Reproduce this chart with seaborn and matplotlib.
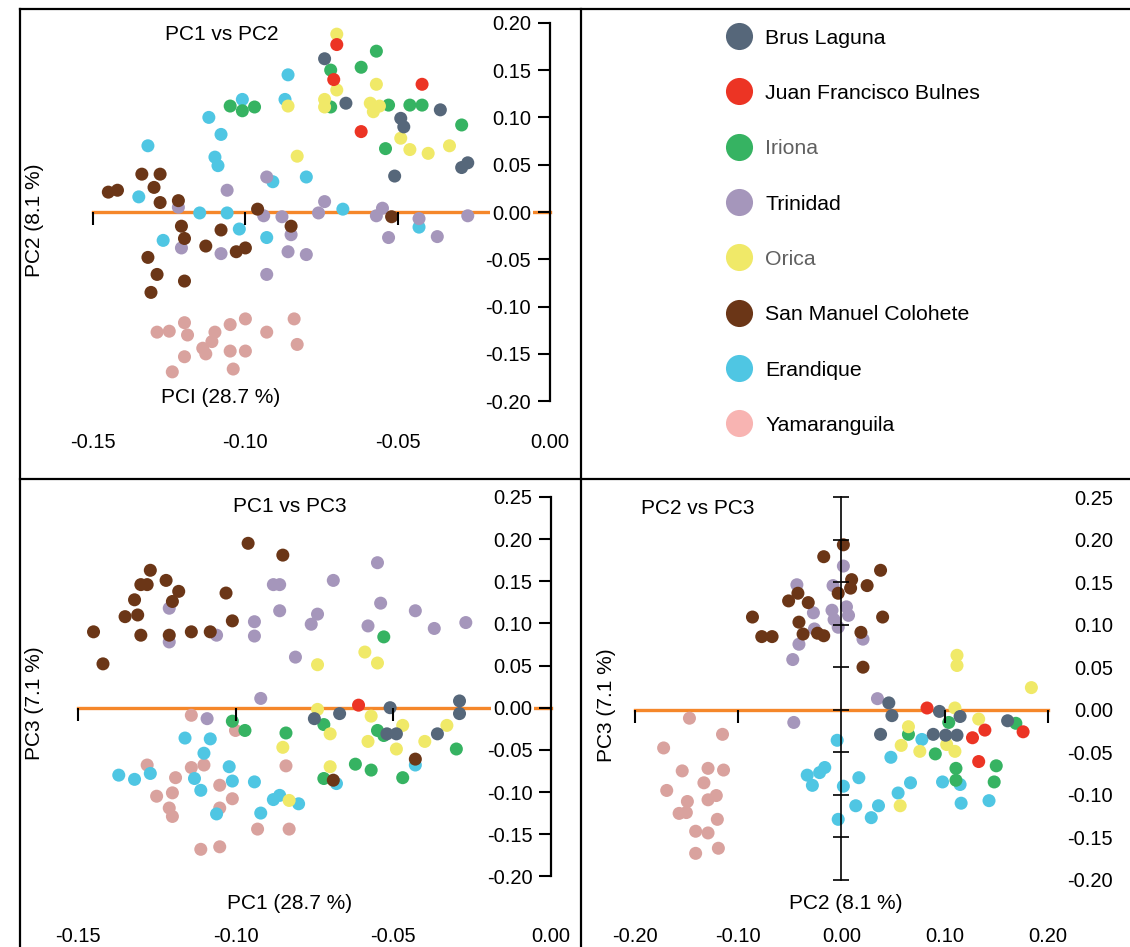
import numpy as np
import pandas as pd
import matplotlib
matplotlib.use("Agg")
import matplotlib.pyplot as plt
from matplotlib.lines import Line2D
import seaborn as sns

plt.rcParams['font.family'] = ['Liberation Sans', 'DejaVu Sans']
plt.rcParams['axes.unicode_minus'] = False

# ---- groups and colours ----
sites = ["Brus Laguna", "Juan Francisco Bulnes", "Iriona", "Trinidad", "Orica",
         "San Manuel Colohete", "Erandique", "Yamaranguila"]
point_colors = ["#56677a", "#ec3424", "#36b362", "#a596bb", "#f0e968",
                "#6b3617", "#4fc6e3", "#d9a29e"]
legend_colors = ["#56677a", "#ec3424", "#36b362", "#a596bb", "#f0e968",
                 "#6b3617", "#4fc6e3", "#f8b4b2"]
legend_text_colors = ["black", "black", "#606060", "black", "#606060",
                      "black", "black", "black"]
draw_order = ["Yamaranguila", "Erandique", "Trinidad", "Iriona", "Orica",
              "Brus Laguna", "Juan Francisco Bulnes", "San Manuel Colohete"]

# ---- ticks ----
pc1_ticks = [-0.15, -0.10, -0.05, 0.00]
pc2_ticks_v = [0.20, 0.15, 0.10, 0.05, 0.00, -0.05, -0.10, -0.15, -0.20]
pc3_ticks_v = [0.25, 0.20, 0.15, 0.10, 0.05, 0.00, -0.05, -0.10, -0.15, -0.20]
pc2_ticks_h = [-0.20, -0.10, 0.00, 0.10, 0.20]

# ---- PC1 vs PC2 ----
p12_x = {
    "Brus Laguna": [-0.074, -0.067, -0.036, -0.049, -0.048, -0.029, -0.027, -0.051],
    "Juan Francisco Bulnes": [-0.070, -0.071, -0.062, -0.042],
    "Iriona": [-0.057, -0.062, -0.072, -0.072, -0.105, -0.101, -0.097, -0.053, -0.046, -0.042, -0.029, -0.054],
    "Trinidad": [-0.093, -0.106, -0.122, -0.094, -0.088, -0.076, -0.074, -0.057, -0.055, -0.043,
                 -0.053, -0.037, -0.027, -0.121, -0.108, -0.085, -0.086, -0.080, -0.093],
    "Orica": [-0.070, -0.070, -0.074, -0.074, -0.086, -0.057, -0.059, -0.058, -0.056, -0.049,
              -0.046, -0.040, -0.033, -0.083],
    "San Manuel Colohete": [-0.145, -0.142, -0.134, -0.128, -0.130, -0.128, -0.122, -0.096, -0.121, -0.120,
                            -0.113, -0.108, -0.103, -0.100, -0.085, -0.132, -0.129, -0.131, -0.120, -0.052],
    "Erandique": [-0.086, -0.087, -0.101, -0.112, -0.108, -0.110, -0.109, -0.132, -0.135, -0.091,
                  -0.080, -0.115, -0.106, -0.102, -0.093, -0.127, -0.068, -0.043],
    "Yamaranguila": [-0.129, -0.125, -0.120, -0.119, -0.110, -0.105, -0.100, -0.084, -0.093, -0.111,
                     -0.114, -0.113, -0.105, -0.100, -0.083, -0.120, -0.124, -0.104],
}
p12_y = {
    "Brus Laguna": [0.162, 0.115, 0.108, 0.099, 0.090, 0.047, 0.052, 0.038],
    "Juan Francisco Bulnes": [0.177, 0.140, 0.085, 0.135],
    "Iriona": [0.170, 0.153, 0.150, 0.111, 0.112, 0.107, 0.111, 0.113, 0.113, 0.113, 0.092, 0.067],
    "Trinidad": [0.037, 0.023, 0.005, -0.004, -0.005, -0.001, 0.011, -0.004, 0.004, -0.007,
                 -0.027, -0.026, -0.004, -0.038, -0.044, -0.024, -0.042, -0.045, -0.066],
    "Orica": [0.188, 0.129, 0.119, 0.111, 0.112, 0.135, 0.115, 0.106, 0.112, 0.078,
              0.066, 0.062, 0.070, 0.059],
    "San Manuel Colohete": [0.021, 0.023, 0.040, 0.040, 0.026, 0.010, 0.012, 0.003, -0.015, -0.028,
                            -0.036, -0.019, -0.042, -0.038, -0.015, -0.048, -0.066, -0.085, -0.073, -0.005],
    "Erandique": [0.145, 0.119, 0.119, 0.100, 0.082, 0.058, 0.049, 0.070, 0.016, 0.032,
                  0.037, -0.001, -0.001, -0.018, -0.027, -0.030, 0.003, -0.016],
    "Yamaranguila": [-0.127, -0.126, -0.117, -0.130, -0.127, -0.119, -0.113, -0.113, -0.127, -0.137,
                     -0.144, -0.150, -0.147, -0.147, -0.140, -0.153, -0.169, -0.166],
}

# ---- PC1 vs PC3 ----
p13_x = {
    "Brus Laguna": [-0.051, -0.075, -0.067, -0.029, -0.029, -0.036, -0.049, -0.052],
    "Juan Francisco Bulnes": [-0.061],
    "Iriona": [-0.053, -0.101, -0.097, -0.084, -0.072, -0.055, -0.053, -0.062, -0.057, -0.072, -0.047, -0.030],
    "Trinidad": [-0.121, -0.121, -0.106, -0.109, -0.094, -0.094, -0.088, -0.086, -0.086, -0.076,
                 -0.074, -0.069, -0.058, -0.055, -0.054, -0.043, -0.037, -0.027, -0.081, -0.092],
    "Orica": [-0.074, -0.059, -0.055, -0.074, -0.057, -0.070, -0.047, -0.085, -0.058, -0.049,
              -0.040, -0.033, -0.070, -0.083],
    "San Manuel Colohete": [-0.145, -0.142, -0.135, -0.131, -0.132, -0.130, -0.130, -0.128, -0.127, -0.122,
                            -0.118, -0.120, -0.121, -0.114, -0.108, -0.103, -0.101, -0.096, -0.085, -0.043, -0.069],
    "Erandique": [-0.137, -0.132, -0.127, -0.116, -0.108, -0.110, -0.102, -0.113, -0.101, -0.111,
                  -0.094, -0.106, -0.092, -0.088, -0.086, -0.080, -0.068, -0.043],
    "Yamaranguila": [-0.114, -0.100, -0.128, -0.114, -0.110, -0.119, -0.084, -0.125, -0.120, -0.105,
                     -0.101, -0.121, -0.120, -0.105, -0.093, -0.083, -0.111, -0.105],
}
p13_y = {
    "Brus Laguna": [0.000, -0.013, -0.007, 0.008, -0.007, -0.031, -0.031, -0.031],
    "Juan Francisco Bulnes": [0.003],
    "Iriona": [0.084, -0.016, -0.027, -0.030, -0.020, -0.027, -0.033, -0.067, -0.074, -0.084, -0.083, -0.049],
    "Trinidad": [0.118, 0.078, 0.086, -0.013, 0.102, 0.085, 0.146, 0.146, 0.115, 0.099,
                 0.111, 0.151, 0.097, 0.172, 0.124, 0.115, 0.094, 0.101, 0.060, 0.011],
    "Orica": [0.051, 0.066, 0.053, -0.002, -0.010, -0.031, -0.021, -0.047, -0.040, -0.049,
              -0.040, -0.021, -0.070, -0.110],
    "San Manuel Colohete": [0.090, 0.052, 0.108, 0.110, 0.128, 0.086, 0.146, 0.146, 0.163, 0.151,
                            0.138, 0.126, 0.086, 0.090, 0.090, 0.136, 0.103, 0.195, 0.181, -0.061, -0.086],
    "Erandique": [-0.080, -0.085, -0.078, -0.036, -0.037, -0.054, -0.070, -0.084, -0.087, -0.098,
                  -0.088, -0.126, -0.125, -0.109, -0.104, -0.114, -0.090, -0.068],
    "Yamaranguila": [-0.009, -0.027, -0.068, -0.071, -0.068, -0.083, -0.069, -0.105, -0.101, -0.092,
                     -0.108, -0.119, -0.129, -0.119, -0.144, -0.144, -0.168, -0.165],
}

# ---- PC2 vs PC3 ----
p23_x = {
    "Brus Laguna": [0.046, 0.049, 0.038, 0.095, 0.115, 0.089, 0.101, 0.112, 0.161],
    "Juan Francisco Bulnes": [0.083, 0.127, 0.139, 0.176, 0.133],
    "Iriona": [0.104, 0.065, 0.091, 0.111, 0.111, 0.150, 0.148, 0.169],
    "Trinidad": [0.002, -0.043, -0.008, -0.009, 0.005, 0.007, -0.027, -0.007, -0.026, -0.003,
                 0.021, -0.041, -0.047, 0.035, -0.046],
    "Orica": [0.112, 0.112, 0.184, 0.110, 0.133, 0.065, 0.058, 0.076, 0.102, 0.110, 0.057],
    "San Manuel Colohete": [0.002, -0.017, 0.038, 0.010, 0.009, 0.025, -0.003, -0.042, -0.051, -0.032,
                            -0.086, -0.041, 0.040, -0.077, -0.067, -0.037, -0.023, -0.017, 0.019, 0.021],
    "Erandique": [-0.004, 0.078, 0.048, -0.033, -0.021, -0.016, -0.028, 0.002, 0.017, 0.067,
                  0.055, 0.098, 0.115, 0.116, 0.143, 0.014, 0.036, 0.029, -0.003],
    "Yamaranguila": [-0.147, -0.115, -0.172, -0.154, -0.129, -0.114, -0.133, -0.169, -0.149, -0.129,
                     -0.121, -0.157, -0.150, -0.120, -0.141, -0.129, -0.141, -0.119],
}
p23_y = {
    "Brus Laguna": [0.008, -0.007, -0.029, -0.002, -0.008, -0.029, -0.030, -0.030, -0.013],
    "Juan Francisco Bulnes": [0.002, -0.033, -0.024, -0.026, -0.061],
    "Iriona": [-0.015, -0.029, -0.052, -0.069, -0.083, -0.066, -0.085, -0.016],
    "Trinidad": [0.169, 0.147, 0.146, 0.117, 0.121, 0.111, 0.114, 0.106, 0.095, 0.097,
                 0.083, 0.077, 0.059, 0.013, -0.015],
    "Orica": [0.064, 0.052, 0.026, 0.002, -0.011, -0.020, -0.042, -0.049, -0.041, -0.049, -0.113],
    "San Manuel Colohete": [0.194, 0.180, 0.164, 0.153, 0.143, 0.146, 0.137, 0.137, 0.128, 0.126,
                            0.109, 0.103, 0.109, 0.086, 0.086, 0.089, 0.090, 0.087, 0.091, 0.050],
    "Erandique": [-0.036, -0.035, -0.056, -0.077, -0.074, -0.068, -0.089, -0.090, -0.080, -0.086,
                  -0.098, -0.085, -0.088, -0.110, -0.107, -0.113, -0.113, -0.127, -0.129],
    "Yamaranguila": [-0.010, -0.029, -0.045, -0.072, -0.069, -0.071, -0.086, -0.095, -0.108, -0.106,
                     -0.101, -0.122, -0.121, -0.129, -0.143, -0.145, -0.169, -0.163],
}


def to_frame(xs, ys):
    rows = []
    for site in draw_order:
        for x, y in zip(xs[site], ys[site]):
            rows.append((site, x, y))
    return pd.DataFrame(rows, columns=["site", "x", "y"])


df12 = to_frame(p12_x, p12_y)
df13 = to_frame(p13_x, p13_y)
df23 = to_frame(p23_x, p23_y)
palette = dict(zip(sites, point_colors))

W, H = 1130, 947
ORANGE = "#f5872a"
FS = 14.5


def box(l, t, r, b):
    return [l / W, 1 - b / H, (r - l) / W, (b - t) / H]


def lims(lo_px, hi_px, zero_px, px_per_unit):
    return ((lo_px - zero_px) / px_per_unit, (hi_px - zero_px) / px_per_unit)


def scatter(ax, df):
    sns.scatterplot(data=df, x="x", y="y", hue="site", palette=palette,
                    s=88, edgecolor="none", linewidth=0, legend=False, ax=ax)
    ax.set_xlabel("")
    ax.set_ylabel("")
    ax.spines["top"].set_visible(False)
    ax.spines["right"].set_visible(False)


def fmt(v):
    return f"{v:.2f}"


fig = plt.figure(figsize=(11.3, 9.47), dpi=100)


def pc1_panel(ax, df, yticks, ybounds):
    scatter(ax, df)
    ax.spines["left"].set_position(("data", 0))
    ax.spines["left"].set_bounds(*ybounds)
    ax.spines["left"].set_linewidth(1.6)
    ax.spines["bottom"].set_position(("data", 0))
    ax.spines["bottom"].set_bounds(-0.15, 0.0)
    ax.spines["bottom"].set_color(ORANGE)
    ax.spines["bottom"].set_linewidth(2.4)
    ax.spines["bottom"].set_zorder(0.5)
    ax.set_xticks(pc1_ticks[:-1])
    ax.tick_params(axis="x", direction="out", length=9, width=1.5,
                   color="black", labelbottom=False)
    ax.set_yticks(yticks, labels=[fmt(v) for v in yticks])
    ax.tick_params(axis="y", direction="out", length=8.5, width=1.5, pad=5, labelsize=FS)
    for lab in ax.get_yticklabels():
        lab.set_bbox(dict(facecolor="white", edgecolor="none", pad=1.5))
    sec = ax.secondary_xaxis("bottom")
    sec.set_xticks(pc1_ticks, labels=[fmt(v) for v in pc1_ticks])
    sec.tick_params(length=0, pad=2, labelsize=FS)
    sec.spines["bottom"].set_visible(False)


# top-left: PC1 vs PC2
ax1 = fig.add_axes(box(62, 10, 580, 430))
ax1.set_xlim(*lims(62, 580, 550, 3046))
ax1.set_ylim(*lims(212 - 430, 212 - 10, 0, 946))
pc1_panel(ax1, df12, pc2_ticks_v, (-0.20, 0.20))

# bottom-left: PC1 vs PC3
ax2 = fig.add_axes(box(40, 488, 580, 924))
ax2.set_xlim(*lims(40, 580, 551, 3155))
ax2.set_ylim(*lims(707.7 - 924, 707.7 - 488, 0, 843))
pc1_panel(ax2, df13, pc3_ticks_v, (-0.20, 0.25))

# bottom-right: PC2 vs PC3
ax3 = fig.add_axes(box(590, 488, 1060, 924))
ax3.set_xlim(*lims(590, 1060, 841.3, 1033))
ax3.set_ylim(*lims(709.7 - 924, 709.7 - 488, 0, 850))
scatter(ax3, df23)
ax3.spines["left"].set_position(("data", 0))
ax3.spines["left"].set_bounds(-0.20, 0.25)
ax3.spines["left"].set_linewidth(1.2)
ax3.spines["bottom"].set_position(("data", 0))
ax3.spines["bottom"].set_bounds(-0.20, 0.20)
ax3.spines["bottom"].set_color(ORANGE)
ax3.spines["bottom"].set_linewidth(2.4)
ax3.spines["bottom"].set_zorder(0.5)
ax3.set_xticks([v for v in pc2_ticks_h if v != 0])
ax3.tick_params(axis="x", direction="out", length=9, width=1.5,
                color="black", labelbottom=False)
ax3.set_yticks(pc3_ticks_v)
ax3.tick_params(axis="y", direction="inout", length=11, width=1.2, labelleft=False)
sec_x = ax3.secondary_xaxis("bottom")
sec_x.set_xticks(pc2_ticks_h, labels=[fmt(v) for v in pc2_ticks_h])
sec_x.tick_params(length=0, pad=2, labelsize=FS)
sec_x.spines["bottom"].set_visible(False)
sec_y = ax3.secondary_yaxis("right")
sec_y.set_yticks(pc3_ticks_v, labels=[fmt(v) for v in pc3_ticks_v])
sec_y.tick_params(length=0, pad=38, labelsize=FS)
sec_y.spines["right"].set_visible(False)
for lab in sec_y.get_yticklabels():
    lab.set_horizontalalignment("right")


def ftext(x, y, s, rot=0):
    fig.text(x / W, 1 - y / H, s, ha="center", va="center", fontsize=15, rotation=rot)


ftext(222, 35, "PC1 vs PC2")
ftext(34, 220, "PC2 (8.1 %)", 90)
ftext(221, 397, "PCI (28.7 %)")
ftext(290, 507, "PC1 vs PC3")
ftext(34, 703, "PC3 (7.1 %)", 90)
ftext(290, 903, "PC1 (28.7 %)")
ftext(698, 508, "PC2 vs PC3")
ftext(607, 705, "PC3 (7.1 %)", 90)
ftext(846, 903, "PC2 (8.1 %)")

# legend panel
handles = [Line2D([], [], marker="o", linestyle="", markersize=19.5,
                  markerfacecolor=c, markeredgecolor="none") for c in legend_colors]
leg = fig.legend(handles, sites, loc="upper left",
                 bbox_to_anchor=(728.6 / W, 1 - 28.5 / H), frameon=False, fontsize=15.3,
                 labelspacing=1.71, handlelength=1.0, handletextpad=0.73,
                 borderpad=0, borderaxespad=0)
for t, c in zip(leg.get_texts(), legend_text_colors):
    t.set_color(c)

# panel frame
def fline(x0, y0, x1, y1):
    fig.add_artist(Line2D([x0 / W, x1 / W], [1 - y0 / H, 1 - y1 / H],
                          transform=fig.transFigure, color="black", lw=1.6))


fline(20, 9.5, 1130, 9.5)
fline(20, 9.5, 20, 947)
fline(581, 9.5, 581, 947)
fline(20, 479, 1130, 479)

fig.savefig("out.png", dpi=100, facecolor="white")
